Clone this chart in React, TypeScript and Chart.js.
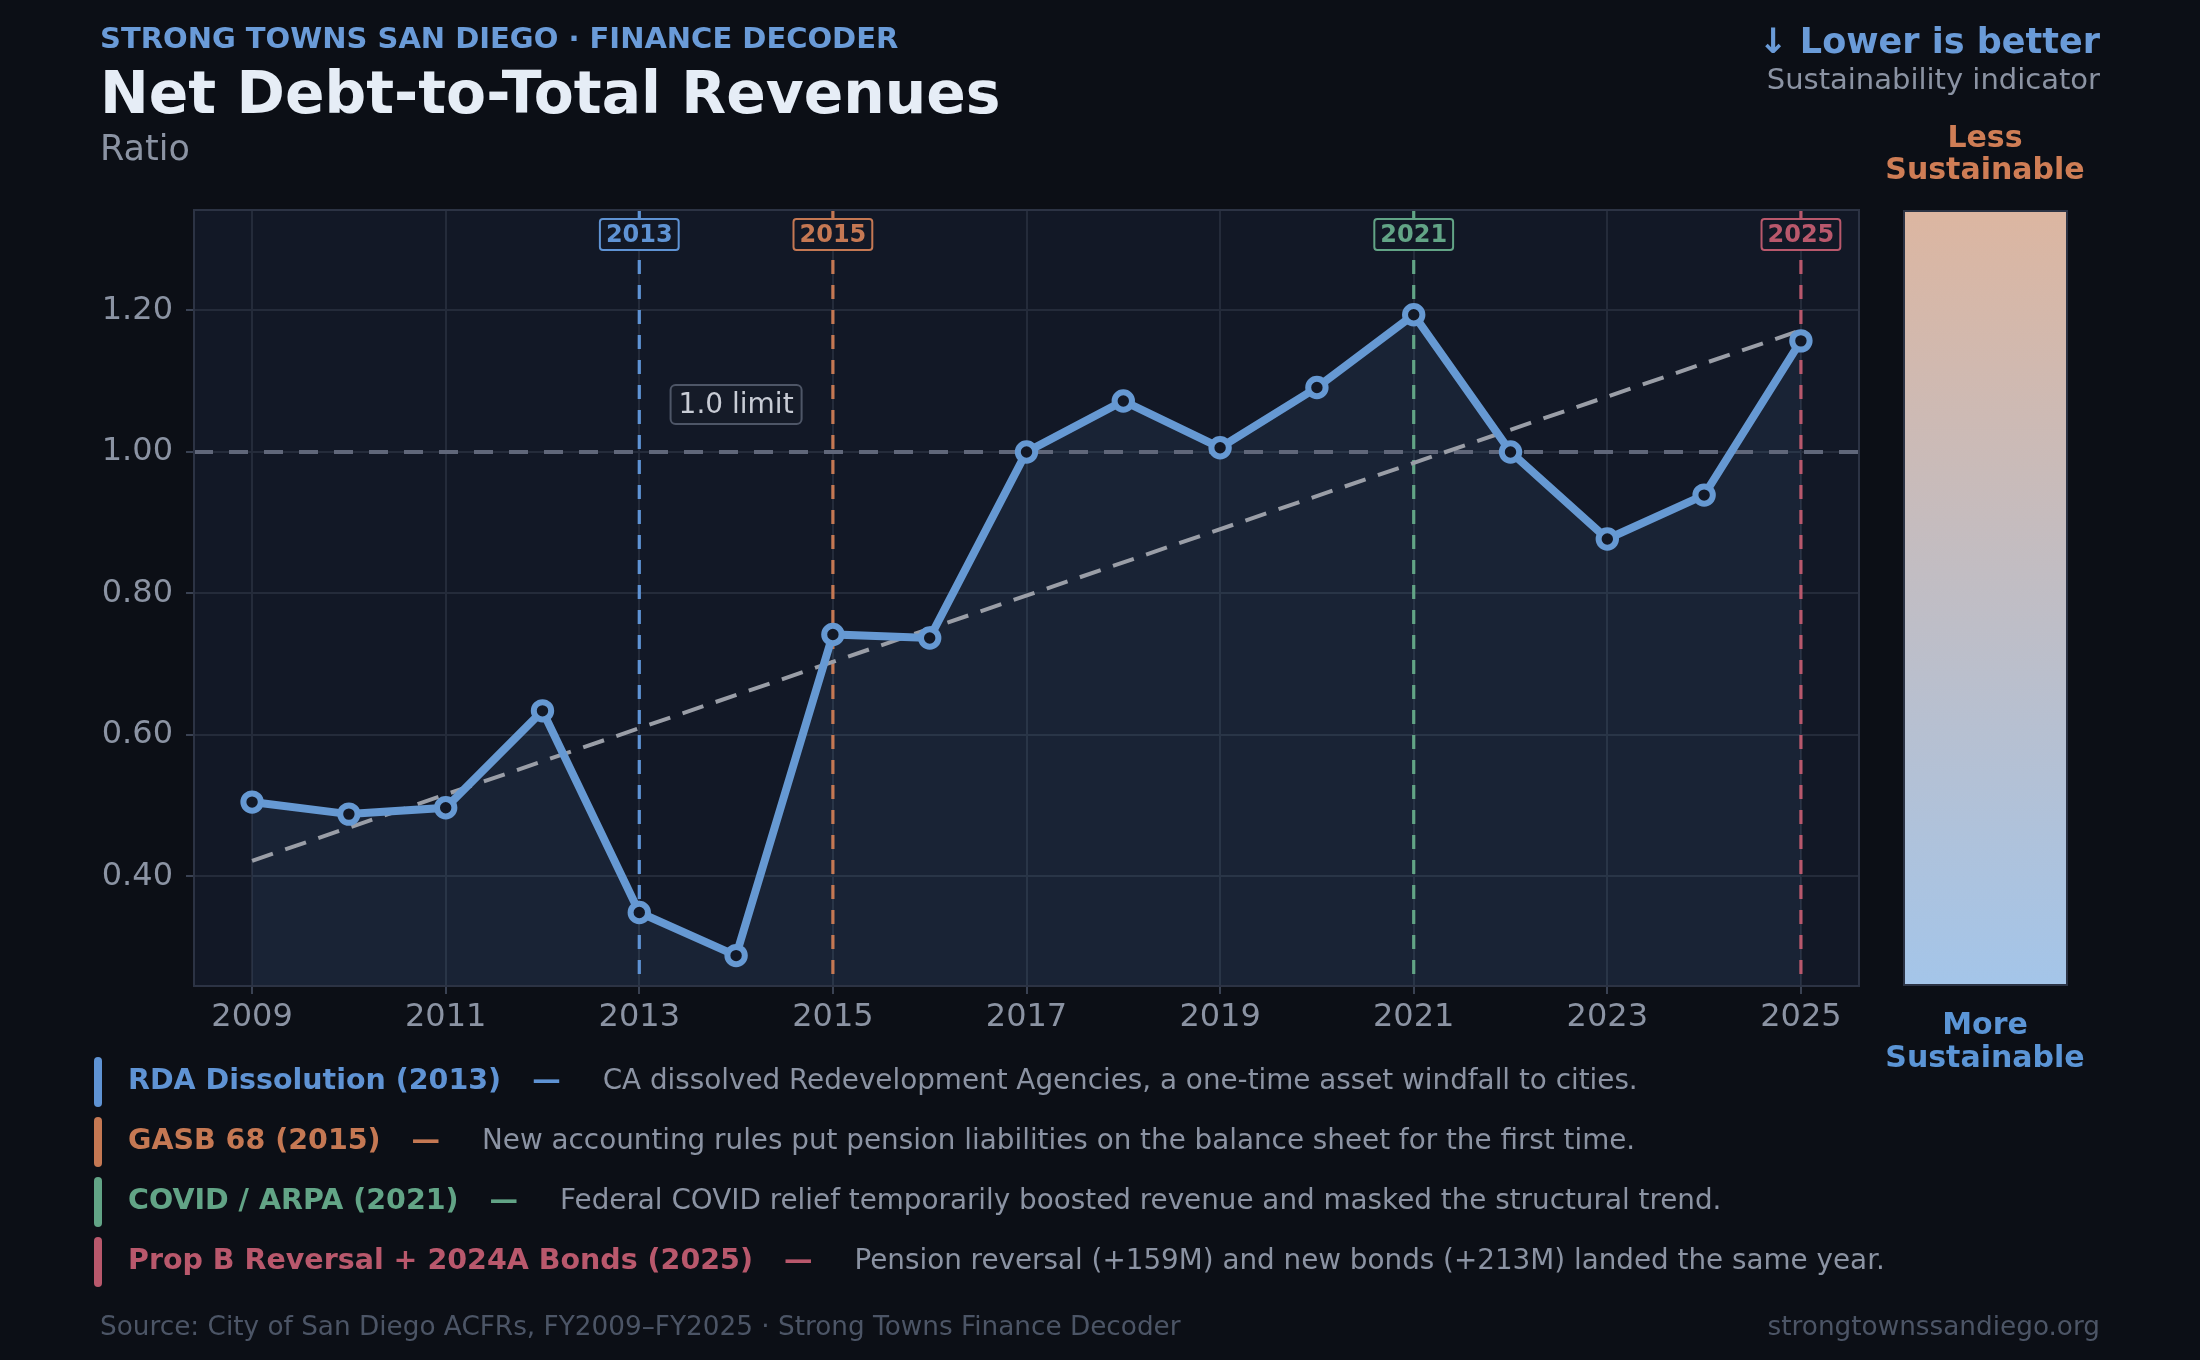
import React, { useEffect, useRef } from 'react';
import { Chart, registerables } from 'chart.js';

Chart.register(...registerables);

// ---- data ----
const years = [2009, 2010, 2011, 2012, 2013, 2014, 2015, 2016, 2017, 2018, 2019, 2020, 2021, 2022, 2023, 2024, 2025];
const ratios = [0.505, 0.488, 0.497, 0.634, 0.349, 0.288, 0.742, 0.737, 1.0, 1.072, 1.006, 1.091, 1.194, 1.0, 0.877, 0.939, 1.157];
const trendYears = [2009, 2025];
const trendValues = [0.422, 1.172];
const xTickYears = [2009, 2011, 2013, 2015, 2017, 2019, 2021, 2023, 2025];
const yTickValues = [0.4, 0.6, 0.8, 1.0, 1.2];
const limitValue = 1.0;
const limitLabel = '1.0 limit';
const limitLabelYear = 2014.0;
const limitLabelValue = 1.067;

const eventYears = [2013, 2015, 2021, 2025];
const eventColors = ['#5f93d4', '#c57853', '#62a486', '#b9586c'];
const eventTitles = ['RDA Dissolution (2013)', 'GASB 68 (2015)', 'COVID / ARPA (2021)', 'Prop B Reversal + 2024A Bonds (2025)'];
const eventNotes = [
  'CA dissolved Redevelopment Agencies, a one-time asset windfall to cities.',
  'New accounting rules put pension liabilities on the balance sheet for the first time.',
  'Federal COVID relief temporarily boosted revenue and masked the structural trend.',
  'Pension reversal (+159M) and new bonds (+213M) landed the same year.',
];

const FONT = '"DejaVu Sans", sans-serif';
const PAGE_BG = '#0c0f16';
const PLOT_BG = '#121826';
const GRID = '#242b3a';
const LINE = '#6699d3';
const MUTED = '#8b93a3';

// text placed by baseline (line-height 1, DejaVu metrics)
const txt = (size: number, baseline: number): React.CSSProperties => ({
  position: 'absolute',
  fontSize: size,
  lineHeight: 1,
  top: baseline - size * 0.846,
  whiteSpace: 'nowrap',
});

const decorPlugin = {
  id: 'decor',
  beforeDraw(chart: any) {
    const { ctx, chartArea: a } = chart;
    ctx.save();
    ctx.fillStyle = PLOT_BG;
    ctx.fillRect(a.left, a.top, a.right - a.left, a.bottom - a.top);
    ctx.restore();
  },
  beforeDatasetsDraw(chart: any) {
    const { ctx, chartArea: a, scales } = chart;
    ctx.save();
    // 1.0 limit line
    const ly = scales.y.getPixelForValue(limitValue);
    ctx.strokeStyle = '#60677a';
    ctx.lineWidth = 4;
    ctx.setLineDash([19, 16]);
    ctx.beginPath();
    ctx.moveTo(a.left, ly);
    ctx.lineTo(a.right, ly);
    ctx.stroke();
    // event lines
    ctx.lineWidth = 3.2;
    ctx.setLineDash([14, 11]);
    eventYears.forEach((yr, i) => {
      const x = scales.x.getPixelForValue(yr);
      ctx.strokeStyle = eventColors[i];
      ctx.beginPath();
      ctx.moveTo(x, a.top);
      ctx.lineTo(x, a.bottom);
      ctx.stroke();
    });
    ctx.restore();
  },
  afterDatasetsDraw(chart: any) {
    const { ctx, chartArea: a, scales } = chart;
    ctx.save();
    ctx.textAlign = 'center';
    ctx.textBaseline = 'middle';
    // year tags
    ctx.font = `bold 24px ${FONT}`;
    eventYears.forEach((yr, i) => {
      const x = scales.x.getPixelForValue(yr);
      const w = ctx.measureText(String(yr)).width + 12;
      const h = 31;
      const y = a.top + 9;
      ctx.fillStyle = PLOT_BG;
      ctx.strokeStyle = eventColors[i];
      ctx.lineWidth = 2;
      ctx.beginPath();
      ctx.roundRect(x - w / 2, y, w, h, 3);
      ctx.fill();
      ctx.stroke();
      ctx.fillStyle = eventColors[i];
      ctx.fillText(String(yr), x, y + h / 2 + 1);
    });
    // limit label
    ctx.font = `28px ${FONT}`;
    const lx = scales.x.getPixelForValue(limitLabelYear);
    const lyy = scales.y.getPixelForValue(limitLabelValue);
    const lw = ctx.measureText(limitLabel).width + 16;
    const lh = 39;
    ctx.fillStyle = '#151b28';
    ctx.strokeStyle = '#4e5667';
    ctx.lineWidth = 2;
    ctx.beginPath();
    ctx.roundRect(lx - lw / 2, lyy - lh / 2, lw, lh, 5);
    ctx.fill();
    ctx.stroke();
    ctx.fillStyle = '#c8ccd5';
    ctx.fillText(limitLabel, lx, lyy + 1);
    ctx.restore();
  },
  afterDraw(chart: any) {
    const { ctx, chartArea: a } = chart;
    ctx.save();
    ctx.strokeStyle = '#2c3344';
    ctx.lineWidth = 2;
    ctx.strokeRect(a.left, a.top, a.right - a.left, a.bottom - a.top);
    ctx.restore();
  },
};

const DebtChart: React.FC = () => {
  const canvasRef = useRef<HTMLCanvasElement>(null);

  useEffect(() => {
    if (!canvasRef.current) return;
    Chart.defaults.font.family = FONT;
    const chart = new Chart(canvasRef.current, {
      type: 'line',
      data: {
        datasets: [
          {
            label: 'Net Debt-to-Total Revenues',
            data: years.map((x, i) => ({ x, y: ratios[i] })),
            borderColor: LINE,
            borderWidth: 8,
            backgroundColor: 'rgba(102,153,211,0.09)',
            fill: 'start',
            pointRadius: 8.7,
            pointBorderWidth: 6,
            pointBackgroundColor: PLOT_BG,
            pointBorderColor: LINE,
            tension: 0,
            order: 1,
          },
          {
            label: 'Trend',
            data: trendYears.map((x, i) => ({ x, y: trendValues[i] })),
            borderColor: '#9a9ea7',
            borderWidth: 4,
            borderDash: [22, 13],
            pointRadius: 0,
            fill: false,
            order: 2,
          },
        ],
      },
      options: {
        animation: false,
        responsive: true,
        maintainAspectRatio: false,
        layout: { padding: { left: 0, top: 210, right: 341, bottom: 314 } },
        plugins: {
          legend: { display: false },
          tooltip: { enabled: false },
          filler: { drawTime: 'beforeDatasetsDraw' },
        },
        scales: {
          x: {
            type: 'linear',
            min: 2008.4,
            max: 2025.6,
            afterBuildTicks: (s: any) => {
              s.ticks = xTickYears.map((v) => ({ value: v }));
            },
            afterFit: (s: any) => {
              s.height = 60;
            },
            grid: { color: GRID, lineWidth: 2, tickLength: 8, tickColor: '#3a4253' },
            border: { display: false },
            ticks: {
              color: MUTED,
              font: { size: 32, family: FONT },
              padding: 4,
              callback: (v: any) => String(v),
            },
          },
          y: {
            min: 0.245,
            max: 1.342,
            afterBuildTicks: (s: any) => {
              s.ticks = yTickValues.map((v) => ({ value: v }));
            },
            afterFit: (s: any) => {
              s.width = 194;
            },
            grid: { color: GRID, lineWidth: 2, tickLength: 8, tickColor: '#3a4253' },
            border: { display: false },
            ticks: {
              color: MUTED,
              font: { size: 32, family: FONT },
              padding: 13,
              callback: (v: any) => Number(v).toFixed(2),
            },
          },
        },
      },
      plugins: [decorPlugin],
    });
    return () => chart.destroy();
  }, []);

  return <canvas ref={canvasRef} />;
};

export default function App() {
  return (
    <div style={{ position: 'relative', width: 2200, height: 1360, background: PAGE_BG, fontFamily: FONT, overflow: 'hidden' }}>
      <style>{`body{margin:0;background:${PAGE_BG};}`}</style>
      <div style={{ position: 'absolute', left: 0, top: 0, width: 2200, height: 1360 }}>
        <DebtChart />
      </div>

      {/* header */}
      <div style={{ ...txt(29, 49), left: 100, color: '#6a9bd8', fontWeight: 'bold' }}>
        STRONG TOWNS SAN DIEGO · FINANCE DECODER
      </div>
      <div style={{ ...txt(58.3, 113), left: 100, color: '#e6edf6', fontWeight: 'bold' }}>Net Debt-to-Total Revenues</div>
      <div style={{ ...txt(35, 161), left: 100, color: MUTED }}>Ratio</div>

      <div style={{ ...txt(35, 54), right: 100, color: '#6a9bd8', fontWeight: 'bold' }}>↓ Lower is better</div>
      <div style={{ ...txt(29, 90), right: 100, color: MUTED }}>Sustainability indicator</div>

      {/* sustainability scale */}
      <div style={{ ...txt(30, 147), left: 1885, width: 200, textAlign: 'center', color: '#cf7d55', fontWeight: 'bold' }}>Less</div>
      <div style={{ ...txt(30, 179), left: 1885, width: 200, textAlign: 'center', color: '#cf7d55', fontWeight: 'bold' }}>Sustainable</div>
      <div
        style={{
          position: 'absolute',
          left: 1903,
          top: 210,
          width: 165,
          height: 776,
          boxSizing: 'border-box',
          border: '2px solid #2c3344',
          background: 'linear-gradient(to bottom, #dcb6a1, #a4c5e9)',
        }}
      />
      <div style={{ ...txt(30, 1034), left: 1885, width: 200, textAlign: 'center', color: '#5b95d6', fontWeight: 'bold' }}>More</div>
      <div style={{ ...txt(30, 1067), left: 1885, width: 200, textAlign: 'center', color: '#5b95d6', fontWeight: 'bold' }}>Sustainable</div>

      {/* event notes */}
      {eventTitles.map((t, i) => {
        const base = 1090 + i * 60;
        return (
          <React.Fragment key={t}>
            <div
              style={{
                position: 'absolute',
                left: 94,
                top: base - 33,
                width: 8,
                height: 50,
                borderRadius: 4,
                background: eventColors[i],
              }}
            />
            <div style={{ ...txt(28.5, base), left: 128 }}>
              <span style={{ color: eventColors[i], fontWeight: 'bold' }}>{t}</span>
              <span style={{ color: eventColors[i], fontWeight: 'bold', margin: '0 42px 0 31px' }}>—</span>
              <span style={{ color: MUTED, fontSize: 27.8 }}>{eventNotes[i]}</span>
            </div>
          </React.Fragment>
        );
      })}

      {/* footer */}
      <div style={{ ...txt(26.3, 1335), left: 100, color: '#4c5566' }}>
        Source: City of San Diego ACFRs, FY2009–FY2025 · Strong Towns Finance Decoder
      </div>
      <div style={{ ...txt(26.3, 1335), right: 100, color: '#4c5566' }}>strongtownssandiego.org</div>
    </div>
  );
}
